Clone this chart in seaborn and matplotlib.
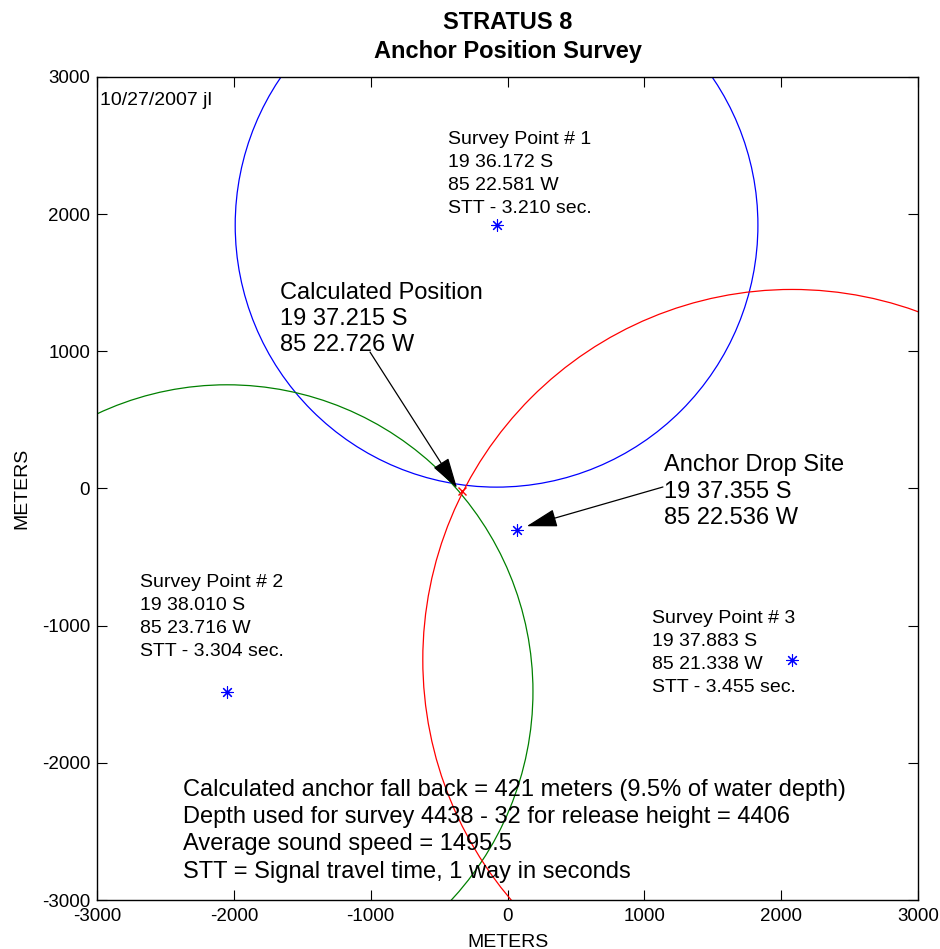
import matplotlib
matplotlib.use('Agg')
import matplotlib.pyplot as plt
from matplotlib.patches import Circle
import seaborn as sns
import pandas as pd

# Survey data (meters, relative to anchor drop site frame)
survey_names = ['Survey Point # 1', 'Survey Point # 2', 'Survey Point # 3']
survey_x = [-80, -2050, 2080]
survey_y = [1920, -1480, -1248]
survey_lat = ['19 36.172 S', '19 38.010 S', '19 37.883 S']
survey_lon = ['85 22.581 W', '85 23.716 W', '85 21.338 W']
survey_stt = ['3.210', '3.304', '3.455']
survey_range = [1910, 2236, 2699]  # horizontal range rings
ring_colors = ['blue', 'green', 'red']

drop_x, drop_y = 70, -303
calc_x, calc_y = -335, -17

notes = ['Calculated anchor fall back = 421 meters (9.5% of water depth)',
         'Depth used for survey 4438 - 32 for release height = 4406',
         'Average sound speed = 1495.5',
         'STT = Signal travel time, 1 way in seconds']

sns.set_theme(style='white')
plt.rcParams['font.family'] = ['Liberation Sans', 'DejaVu Sans']
plt.rcParams['text.color'] = 'black'
plt.rcParams['axes.labelcolor'] = 'black'
plt.rcParams['axes.unicode_minus'] = False

fig, ax = plt.subplots(figsize=(9.4, 9.49), dpi=100)
fig.subplots_adjust(left=0.1032, right=0.9766, top=0.9189, bottom=0.0516)

# range rings
for cx, cy, r, c in zip(survey_x, survey_y, survey_range, ring_colors):
    ax.add_patch(Circle((cx, cy), r, fill=False, edgecolor=c, linewidth=0.9))

# survey points + drop site
pts = pd.DataFrame({'x': survey_x + [drop_x], 'y': survey_y + [drop_y]})
sns.scatterplot(data=pts, x='x', y='y', marker=(8, 2, 0), color='blue',
                s=70, linewidth=0.8, ax=ax, zorder=5)
ax.plot([calc_x], [calc_y], marker='x', color='red', markersize=6, mew=1)

# labels
small = 14
big = 17
for name, lat, lon, stt, tx, ty in zip(survey_names, survey_lat, survey_lon, survey_stt,
                                        [-435, -2686, 1056], [2290, -935, -1200]):
    ax.text(tx, ty, f'{name}\n{lat}\n{lon}\nSTT - {stt} sec.', fontsize=small,
            va='center', ha='left', linespacing=1.46)

ax.text(-2978, 2832, '10/27/2007 jl', fontsize=small, va='center', ha='left')

arrow = dict(arrowstyle='-|>,head_length=1.2,head_width=0.35', color='black',
             lw=0.9, mutation_scale=16, shrinkA=0, shrinkB=0)
ax.annotate('', xy=(-369, 4), xytext=(-1005, 995), arrowprops=arrow)
ax.annotate('', xy=(140, -275), xytext=(1136, 11), arrowprops=arrow)

ax.text(-1663, 1235, 'Calculated Position\n19 37.215 S\n85 22.726 W', fontsize=big,
        va='center', ha='left', linespacing=1.25)
ax.text(1144, -22, 'Anchor Drop Site\n19 37.355 S\n85 22.536 W', fontsize=big,
        va='center', ha='left', linespacing=1.25)
ax.text(-2372, -2495, '\n'.join(notes), fontsize=big, va='center', ha='left',
        linespacing=1.32)

ax.set_xlim(-3000, 3000)
ax.set_ylim(-3000, 3000)
ax.set_xticks(range(-3000, 3001, 1000))
ax.set_yticks(range(-3000, 3001, 1000))
ax.tick_params(direction='in', length=7, width=0.8, labelsize=13.5, colors='black',
               top=True, right=True, bottom=True, left=True)
ax.tick_params(axis='x', pad=6)
ax.tick_params(axis='y', pad=5)
for s in ax.spines.values():
    s.set_color('black')
    s.set_linewidth(1.0)
ax.set_xlabel('METERS', fontsize=14, labelpad=6)
ax.set_ylabel('METERS', fontsize=14, labelpad=8)
ax.set_title('STRATUS 8\nAnchor Position Survey', fontsize=17, fontweight='bold',
             linespacing=1.3, pad=14)

fig.savefig('out.png', dpi=100)
